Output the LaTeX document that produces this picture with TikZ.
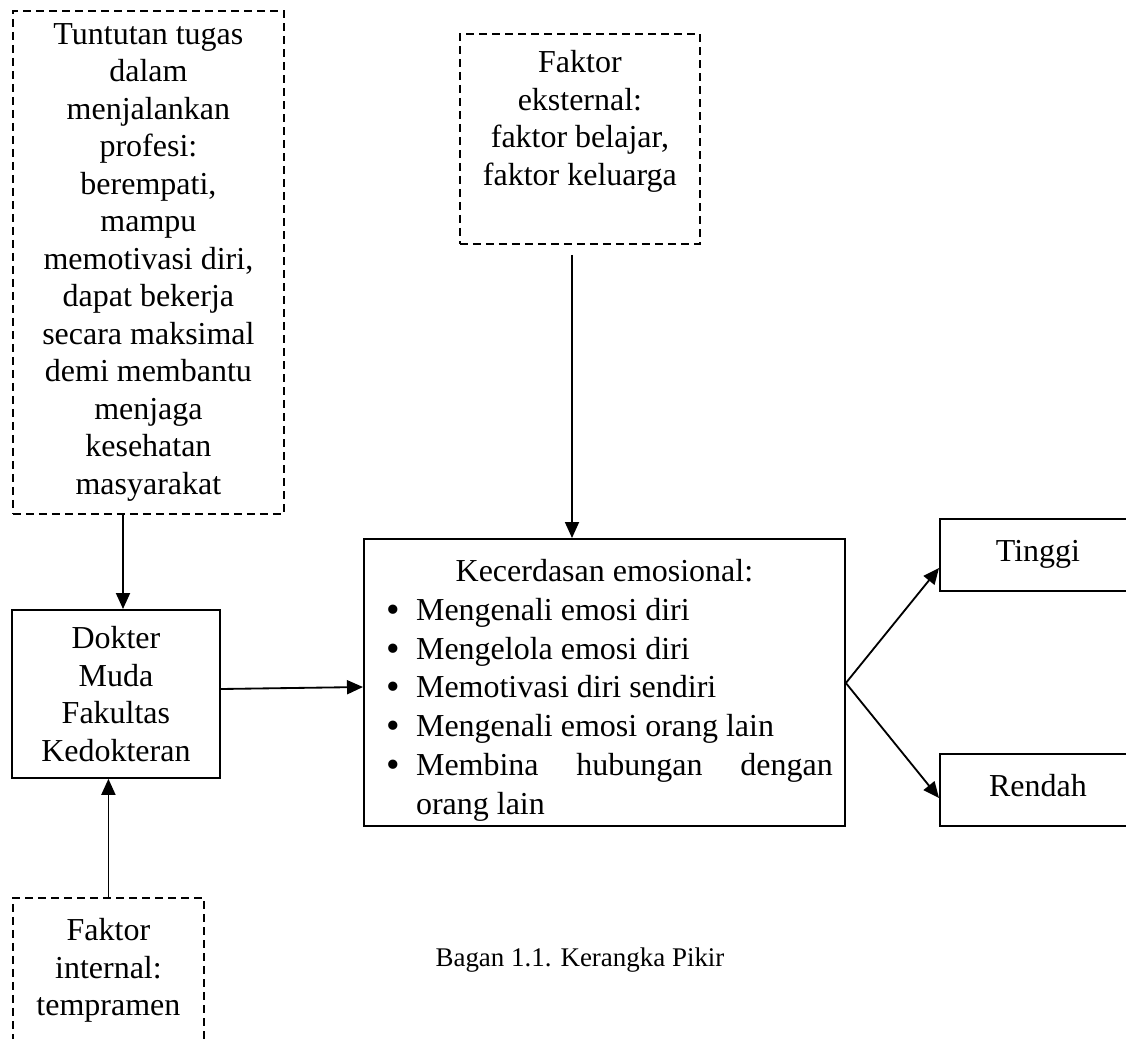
\documentclass[tikz,border=0pt]{standalone}
\usepackage{fontspec}
\setmainfont{Liberation Serif}
\usetikzlibrary{arrows.meta}

\newcommand{\butir}{\makebox[1.2cm][l]{\hspace{0.3cm}\raisebox{-0.06cm}{\fontsize{33}{33}\selectfont\textbullet}}}

\begin{document}
\begin{tikzpicture}[x=0.03cm,y=-0.03cm,->,>={Triangle[length=0.48cm,width=0.42cm]},
  line width=0.055cm,
  every node/.style={font=\fontsize{27.3}{32}\selectfont,inner sep=0pt,align=center,anchor=north west},
  dash box/.style={draw,dash pattern=on 0.24cm off 0.15cm},
  line box/.style={draw},
  hasil box/.style={draw,minimum width=5.88cm,minimum height=2.16cm,text height=0.67cm,text depth=0.3cm}]

  \useasboundingbox (0,0) rectangle (1126,1038);
  \clip (0,0) rectangle (1126,1038);

  \node[dash box,minimum width=8.13cm,minimum height=15.09cm] (tuntutan) at (12,10)
    {Tuntutan tugas\\dalam\\menjalankan\\profesi:\\berempati,\\mampu\\memotivasi diri,\\dapat bekerja\\secara maksimal\\demi membantu\\menjaga\\kesehatan\\masyarakat};
  \node[line box,minimum width=6.24cm,minimum height=5.04cm] (dokter) at (11,609)
    {Dokter\\Muda\\Fakultas\\Kedokteran};
  \node[dash box,minimum width=5.73cm,minimum height=4.35cm] (internal) at (12,897)
    {Faktor\\internal:\\tempramen};
  \node[dash box,minimum width=7.2cm,minimum height=6.3cm,text depth=1.26cm] (eksternal) at (459,33)
    {Faktor\\eksternal:\\faktor belajar,\\faktor keluarga};
  \node[line box,minimum width=14.43cm,minimum height=8.61cm,text width=13.7cm,align=flush left,
    font=\fontsize{27.3}{33.2}\selectfont] (emosi) at (363,538)
    {\rule{0pt}{1.14cm}\hspace*{\fill}Kecerdasan emosional:\hspace*{\fill}\mbox{}\\
     \butir Mengenali emosi diri\\
     \butir Mengelola emosi diri\\
     \butir Memotivasi diri sendiri\\
     \butir Mengenali emosi orang lain\\
     \butir Membina\hfill hubungan\hfill dengan\\
     \hspace*{1.2cm}orang lain};
  \node[hasil box] (tinggi) at (939,518) {Tinggi};
  \node[hasil box] (rendah) at (939,753) {Rendah};
  \node[anchor=base,font=\fontsize{23}{26}\selectfont] (judul) at (580,966) {Bagan 1.1. Kerangka Pikir};

  \coordinate (cabang) at (emosi.east |- 0,683);

  \draw (tuntutan.south -| 123,0) -- (dokter.north -| 123,0);
  \draw (internal.north) -- (dokter.south -| internal.north);
  \draw (dokter.east |- 0,689) -- (emosi.west |- 0,687);
  \draw[shorten <=0.3cm] (eksternal.south -| 572,0) -- (emosi.north -| 572,0);
  \draw (cabang) -- (tinggi.west |- 0,568);
  \draw (cabang) -- (rendah.west |- 0,798);
\end{tikzpicture}
\end{document}
